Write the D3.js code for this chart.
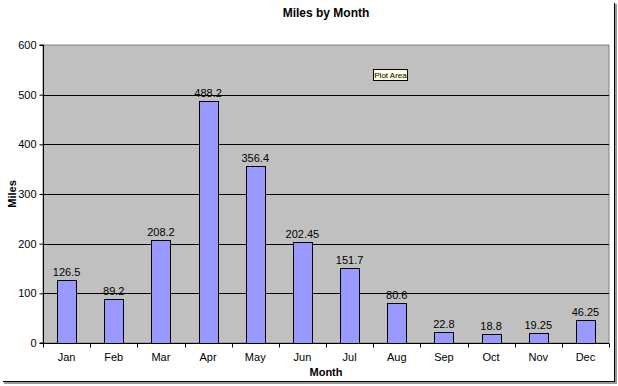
<!DOCTYPE html>
<html>
<head>
<meta charset="utf-8">
<script src="https://cdn.jsdelivr.net/npm/d3@7"></script>
<style>
  body { margin: 0; background: #fff; }
  svg { display: block; font-family: Arial, "Liberation Sans", sans-serif; }
</style>
</head>
<body>
<script>
// chart data
const months = ["Jan", "Feb", "Mar", "Apr", "May", "Jun", "Jul", "Aug", "Sep", "Oct", "Nov", "Dec"];
const miles = [126.5, 89.2, 208.2, 488.2, 356.4, 202.45, 151.7, 80.6, 22.8, 18.8, 19.25, 46.25];
const yTicks = [0, 100, 200, 300, 400, 500, 600];

const width = 618, height = 386;
const margin = {top: 45, right: 9, bottom: 43, left: 43};

const svg = d3.select("body").append("svg")
    .attr("width", width)
    .attr("height", height);

// frame with the dark shadow on right/bottom
svg.append("rect")
    .attr("x", 615).attr("y", 4).attr("width", 2).attr("height", 380)
    .attr("fill", "#9a9a9a");
svg.append("rect")
    .attr("x", 4).attr("y", 382).attr("width", 613).attr("height", 2)
    .attr("fill", "#9a9a9a");
svg.append("line")
    .attr("x1", 614.5).attr("x2", 614.5).attr("y1", 3).attr("y2", 382)
    .attr("stroke", "#000");
svg.append("line")
    .attr("x1", 3).attr("x2", 615).attr("y1", 381.5).attr("y2", 381.5)
    .attr("stroke", "#000");

const x = d3.scaleBand()
    .domain(months)
    .range([margin.left, width - margin.right])
    .paddingInner(0.6)
    .paddingOuter(0.3);

const y = d3.scaleLinear()
    .domain([0, 600])
    .range([height - margin.bottom, margin.top]);

// plot area
svg.append("rect")
    .attr("x", margin.left)
    .attr("y", margin.top)
    .attr("width", width - margin.right - margin.left)
    .attr("height", height - margin.bottom - margin.top)
    .attr("fill", "#c0c0c0")
    .attr("stroke", "#808080");

// gridlines
svg.append("g")
    .selectAll("line")
    .data(yTicks.filter(d => d > 0 && d < 600))
    .join("line")
    .attr("x1", margin.left)
    .attr("x2", width - margin.right)
    .attr("y1", d => Math.round(y(d)) + 0.5)
    .attr("y2", d => Math.round(y(d)) + 0.5)
    .attr("stroke", "#000");

// bars
svg.append("g")
    .selectAll("rect")
    .data(miles)
    .join("rect")
    .attr("x", (d, i) => Math.round(x(months[i])) + 0.5)
    .attr("y", d => Math.round(y(d)) + 0.5)
    .attr("width", Math.round(x.bandwidth()))
    .attr("height", d => Math.round(y(0)) - Math.round(y(d)))
    .attr("fill", "#9999ff")
    .attr("stroke", "#000");

// data labels
svg.append("g")
    .attr("font-size", 11)
    .attr("text-anchor", "middle")
    .attr("fill", "#000")
    .selectAll("text")
    .data(miles)
    .join("text")
    .attr("x", (d, i) => x(months[i]) + x.bandwidth() / 2)
    .attr("y", d => y(d) - 4)
    .text(d => d);

// y axis
const yAxis = svg.append("g")
    .attr("transform", `translate(${margin.left + 0.5},0)`)
    .call(d3.axisLeft(y).tickValues(yTicks).tickSize(4).tickPadding(3));
yAxis.select(".domain").attr("stroke", "#000").attr("d", `M-4,${y(600)}H0V${y(0)}H-4`);
yAxis.selectAll("text").attr("font-size", 11).attr("font-family", "Arial, 'Liberation Sans', sans-serif");

// x axis: ticks at category boundaries
const xAxisG = svg.append("g")
    .attr("transform", `translate(0,${Math.round(y(0)) + 0.5})`);
xAxisG.append("line")
    .attr("x1", margin.left).attr("x2", width - margin.right)
    .attr("stroke", "#000");
const step = x.step();
xAxisG.selectAll("line.tick")
    .data(d3.range(months.length + 1))
    .join("line")
    .attr("class", "tick")
    .attr("x1", i => Math.round(margin.left + i * (width - margin.right - margin.left) / months.length) + 0.5)
    .attr("x2", i => Math.round(margin.left + i * (width - margin.right - margin.left) / months.length) + 0.5)
    .attr("y1", 0).attr("y2", 4)
    .attr("stroke", "#000");
xAxisG.selectAll("text")
    .data(months)
    .join("text")
    .attr("x", d => x(d) + x.bandwidth() / 2)
    .attr("y", 17)
    .attr("text-anchor", "middle")
    .attr("font-size", 11)
    .text(d => d);

// titles
svg.append("text")
    .attr("x", 326).attr("y", 17)
    .attr("text-anchor", "middle")
    .attr("font-size", 12)
    .attr("font-weight", "bold")
    .text("Miles by Month");

svg.append("text")
    .attr("x", 326).attr("y", 376)
    .attr("text-anchor", "middle")
    .attr("font-size", 11)
    .attr("font-weight", "bold")
    .text("Month");

svg.append("text")
    .attr("transform", `translate(16,${(margin.top + height - margin.bottom) / 2}) rotate(-90)`)
    .attr("text-anchor", "middle")
    .attr("font-size", 11)
    .attr("font-weight", "bold")
    .text("Miles");

// "Plot Area" tooltip
const tip = svg.append("g").attr("transform", "translate(373.5,69.5)");
tip.append("rect")
    .attr("width", 34).attr("height", 11)
    .attr("fill", "#ffffe1")
    .attr("stroke", "#000");
tip.append("text")
    .attr("x", 17).attr("y", 8.5)
    .attr("text-anchor", "middle")
    .attr("font-size", 8)
    .text("Plot Area");
</script>
</body>
</html>
